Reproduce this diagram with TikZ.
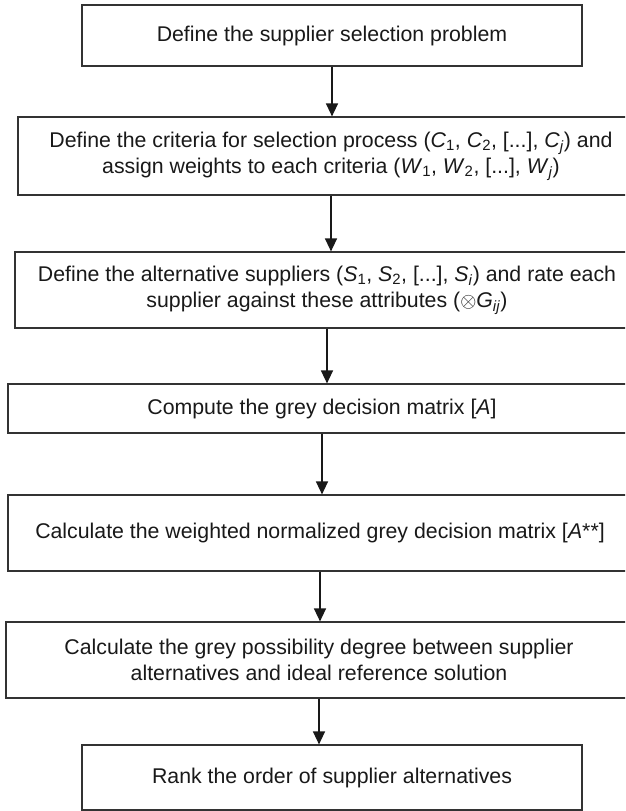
\documentclass[tikz,border=0pt]{standalone}
\usepackage{fontspec}
\setmainfont{Liberation Sans}
\usepackage{tikz}
\usetikzlibrary{arrows.meta}
\usepackage{xcolor}

\newcommand{\var}[2]{\textit{#1}\textsubscript{#2}}

\begin{document}
\begin{tikzpicture}[x=1pt, y=-1pt,
  stage/.style={draw=black!80, line width=1.2pt, fill=white, inner sep=0pt,
    align=center, text=black!90, font=\fontsize{21.3}{26}\selectfont},
  flows/.style={-{Triangle[length=13pt, width=12pt]}, line width=1.4pt, black!90}
]
  \useasboundingbox (0,0) rectangle (625,811);
  \clip (0,0) rectangle (625,811);
  \node[stage, minimum width=500pt, minimum height=61pt] (n1) at (332, 35.5)
    {Define the supplier selection problem};
  \node[stage, minimum width=626pt, minimum height=78pt] (n2) at (331, 156)
    {Define the criteria for selection process (\var{C}{1}, \var{C}{2}, [...], \var{C}{\textit{j}}) and\\
     assign weights to each criteria (\var{W}{1}, \var{W}{2}, [...], \var{W}{\textit{j}})};
  \node[stage, minimum width=624pt, minimum height=76pt] (n3) at (327, 290)
    {Define the alternative suppliers (\var{S}{1}, \var{S}{2}, [...], \var{S}{\textit{i}}) and rate each\\
     supplier against these attributes ($\otimes$\var{G}{\textit{ij}})};
  \node[stage, minimum width=628pt, minimum height=49pt] (n4) at (322, 408.5)
    {Compute the grey decision matrix [\textit{A}]};
  \node[stage, minimum width=624pt, minimum height=76pt] (n5) at (320, 533)
    {Calculate the weighted normalized grey decision matrix [\textit{A}**]};
  \node[stage, minimum width=626pt, minimum height=76pt] (n6) at (319, 660)
    {Calculate the grey possibility degree between supplier\\
     alternatives and ideal reference solution};
  \node[stage, minimum width=500pt, minimum height=65pt] (n7) at (332, 777.5)
    {Rank the order of supplier alternatives};

  \draw[flows] (n1.south) -- (n1.south |- n2.north);
  \draw[flows] (n2.south) -- (n2.south |- n3.north);
  \draw[flows] (n3.south) -- (n3.south |- n4.north);
  \draw[flows] (n4.south) -- (n4.south |- n5.north);
  \draw[flows] (n5.south) -- (n5.south |- n6.north);
  \draw[flows] (n6.south) -- (n6.south |- n7.north);
\end{tikzpicture}
\end{document}
